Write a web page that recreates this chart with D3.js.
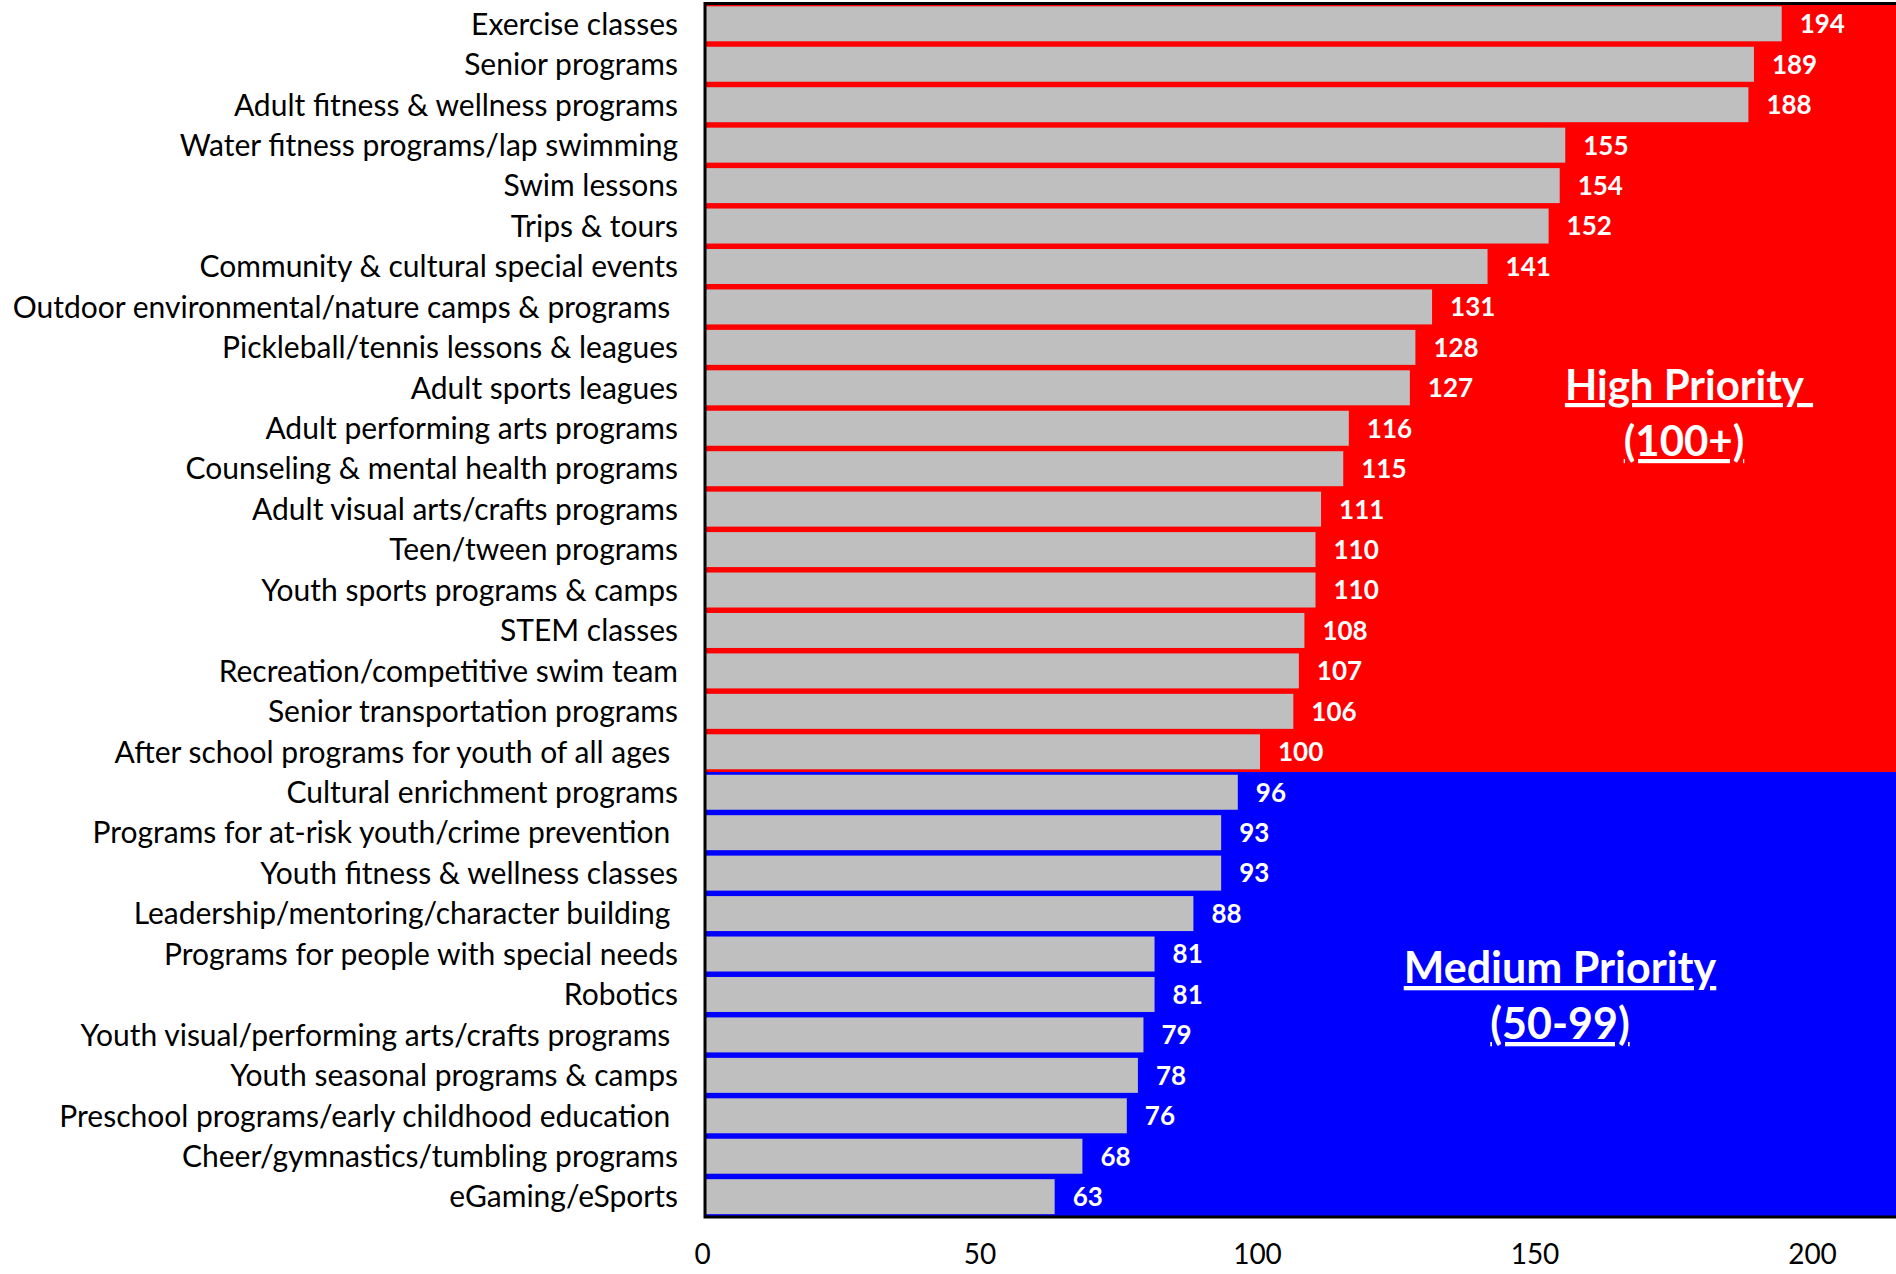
<!DOCTYPE html>
<html><head><meta charset="utf-8">
<script src="https://cdn.jsdelivr.net/npm/d3@7"></script>
<style>
html,body{margin:0;padding:0;background:#fff;overflow:hidden}
svg text{font-family:Lato,"Open Sans",sans-serif;}
</style></head>
<body><svg id="chart" width="1896" height="1274"></svg>
<script>
const categories = [
  "Exercise classes",
  "Senior programs",
  "Adult fitness & wellness programs",
  "Water fitness programs/lap swimming",
  "Swim lessons",
  "Trips & tours",
  "Community & cultural special events",
  "Outdoor environmental/nature camps & programs ",
  "Pickleball/tennis lessons & leagues",
  "Adult sports leagues",
  "Adult performing arts programs",
  "Counseling & mental health programs",
  "Adult visual arts/crafts programs",
  "Teen/tween programs",
  "Youth sports programs & camps",
  "STEM classes",
  "Recreation/competitive swim team",
  "Senior transportation programs",
  "After school programs for youth of all ages ",
  "Cultural enrichment programs",
  "Programs for at-risk youth/crime prevention ",
  "Youth fitness & wellness classes",
  "Leadership/mentoring/character building ",
  "Programs for people with special needs",
  "Robotics",
  "Youth visual/performing arts/crafts programs ",
  "Youth seasonal programs & camps",
  "Preschool programs/early childhood education ",
  "Cheer/gymnastics/tumbling programs",
  "eGaming/eSports"
];
const values = [194,189,188,155,154,152,141,131,128,127,116,115,111,110,110,108,107,106,100,96,93,93,88,81,81,79,78,76,68,63];
const xTicks = [0,50,100,150,200];
const bandNames = ["High Priority", "Medium Priority"];
const bandRanges = ["(100+)", "(50-99)"];
const bandMins = [100, 50];
const bandColors = ["#FF0000", "#0000FF"];

const svg = d3.select("#chart");
const plotTop = 3.5, plotBottom = 1217, plotLeft = 705;
const x = d3.scaleLinear().domain([0, 220]).range([plotLeft, plotLeft + 220 * 5.55]);
const y = d3.scaleBand().domain(categories).range([plotTop, plotBottom]).paddingInner(0.135).paddingOuter(0.07);
const step = y.step();

const bandOf = v => bandMins.findIndex(m => v >= m);
// background priority zones
bandNames.forEach((name, bi) => {
  const idx = categories.map((c, i) => i).filter(i => bandOf(values[i]) === bi);
  const first = idx[0], last = idx[idx.length - 1];
  const top = first === 0 ? plotTop : y(categories[first]) - y.paddingInner() * step / 2;
  const bottom = last === categories.length - 1 ? plotBottom : y(categories[last]) + y.bandwidth() + y.paddingInner() * step / 2;
  svg.append("rect").attr("x", plotLeft).attr("y", top).attr("width", 1896 - plotLeft).attr("height", bottom - top).attr("fill", bandColors[bi]);
});

// bars
svg.append("g").selectAll("rect").data(categories).join("rect")
  .attr("x", x(0)).attr("y", d => y(d)).attr("width", (d, i) => x(values[i]) - x(0))
  .attr("height", y.bandwidth()).attr("fill", "#BFBFBF");

// value labels
svg.append("g").selectAll("text").data(categories).join("text")
  .attr("x", (d, i) => x(values[i]) + 18).attr("y", d => y(d) + y.bandwidth() / 2)
  .attr("dy", "0.36em").attr("fill", "#fff").attr("font-weight", 700).attr("font-size", 26)
  .text((d, i) => values[i]);

// border
svg.append("path").attr("d", `M1900,${plotTop}H${plotLeft}V${plotBottom}H1900`)
  .attr("fill", "none").attr("stroke", "#000").attr("stroke-width", 3);

// category labels
svg.append("g").selectAll("text").data(categories).join("text")
  .attr("x", 678).attr("y", d => y(d) + y.bandwidth() / 2).attr("dy", "0.36em")
  .attr("text-anchor", "end").attr("font-size", 30).attr("fill", "#000")
  .style("white-space", "pre").text(d => d.replace(/ $/, "\u00a0"));

// x axis tick labels
const xAxis = d3.axisBottom(x).tickValues(xTicks).tickSize(0).tickPadding(0);
const gx = svg.append("g").attr("transform", `translate(-3,1244)`).call(xAxis);
gx.select(".domain").remove();
gx.selectAll("text").attr("font-size", 28).attr("fill", "#000").attr("font-family", "Lato").attr("dy", "0.71em");

// annotations
const annPos = [[1689, 400], [1560, 983]];
bandNames.forEach((name, bi) => {
  const t = svg.append("text").attr("text-anchor", "middle").attr("fill", "#fff")
    .attr("font-weight", 700).attr("font-size", bi === 0 ? 42 : 43).style("text-decoration", "underline").style("white-space", "pre");
  t.append("tspan").attr("x", annPos[bi][0]).attr("y", annPos[bi][1]).text(bi === 0 ? name + "\u00a0" : name);
  t.append("tspan").attr("x", annPos[bi][0] - (bi === 0 ? 5 : 0)).attr("y", annPos[bi][1] + 56).text(bandRanges[bi]);
});
</script>
</body></html>
